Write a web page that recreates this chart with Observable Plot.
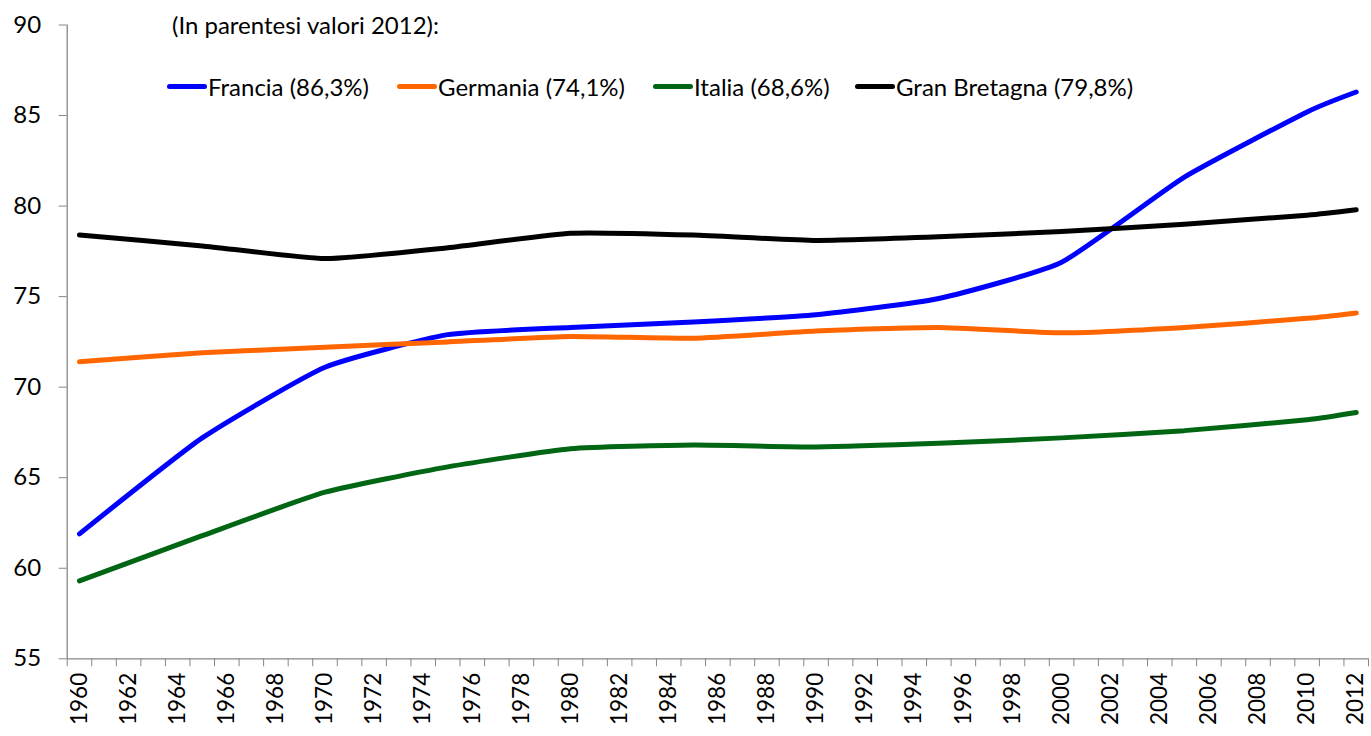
<!DOCTYPE html>
<html>
<head>
<meta charset="utf-8">
<script src="https://cdn.jsdelivr.net/npm/d3@7"></script>
<script src="https://cdn.jsdelivr.net/npm/@observablehq/plot@0.6"></script>
<style>
  html, body { margin: 0; padding: 0; background: #fff; }
  #wrap { position: relative; width: 1371px; height: 736px; font-family: Lato, "Open Sans", sans-serif; }
  #wrap svg { position: absolute; left: 0; top: 0; }
  .title { position: absolute; left: 172px; top: 10px; font-size: 24px; color: #000; white-space: nowrap; }
  .item { position: absolute; top: 71px; height: 30px; display: flex; align-items: center; font-size: 24px; white-space: nowrap; }
  .sw { width: 40px; height: 5px; border-radius: 3px; margin-right: 1px; }
</style>
</head>
<body>
<div id="wrap"></div>
<script>
// Data (percent values)
const years    = [1960, 1965, 1970, 1975, 1980, 1985, 1990, 1995, 2000, 2005, 2010, 2012];
const francia  = [61.9, 67.2, 71.1, 72.9, 73.3, 73.6, 74.0, 74.9, 76.9, 81.6, 85.2, 86.3];
const germania = [71.4, 71.9, 72.2, 72.5, 72.8, 72.7, 73.1, 73.3, 73.0, 73.3, 73.8, 74.1];
const italia   = [59.3, 61.8, 64.2, 65.6, 66.6, 66.8, 66.7, 66.9, 67.2, 67.6, 68.2, 68.6];
const granBretagna = [78.4, 77.8, 77.1, 77.7, 78.5, 78.4, 78.1, 78.3, 78.6, 79.0, 79.5, 79.8];

const seriesNames  = ["Francia", "Germania", "Italia", "Gran Bretagna"];
const seriesLabels = ["Francia (86,3%)", "Germania (74,1%)", "Italia (68,6%)", "Gran Bretagna (79,8%)"];
const seriesColors = ["#0000FF", "#FF6600", "#006614", "#000000"];
const seriesValues = [francia, germania, italia, granBretagna];
const legendTitle = "(In parentesi valori 2012):";

const yTicks = [55, 60, 65, 70, 75, 80, 85, 90];
const labelYears = d3.range(1960, 2013, 2);
const tickBounds = d3.range(1959.5, 2013, 1);

const data = [];
seriesNames.forEach((name, i) => {
  years.forEach((yr, j) => data.push({country: name, year: yr, value: seriesValues[i][j]}));
});

const axisGrey = "#868686";

const chart = Plot.plot({
  width: 1371,
  height: 736,
  marginLeft: 66.7,
  marginRight: 3,
  marginTop: 24.5,
  marginBottom: 77.7,
  style: {fontFamily: "Lato, 'Open Sans', sans-serif", background: "white"},
  x: {domain: [1959.5, 2012.5]},
  y: {domain: [55, 90]},
  color: {domain: seriesNames, range: seriesColors},
  marks: [
    Plot.axisY({ticks: yTicks, tickSize: 8, tickPadding: 18, fontSize: 24, stroke: axisGrey, fill: "black", label: null, tickFormat: d => String(d)}),
    Plot.axisX({ticks: tickBounds, tickSize: 8, stroke: axisGrey, tickFormat: () => "", label: null}),
    Plot.axisX({ticks: labelYears, tickSize: 0, tickPadding: 14, tickRotate: -90, fontSize: 22.5, fill: "black", label: null, tickFormat: d => String(d)}),
    Plot.ruleX([1959.5], {stroke: axisGrey, strokeWidth: 1.3}),
    Plot.ruleY([55], {stroke: axisGrey, strokeWidth: 1.3}),
    Plot.line(data, {x: "year", y: "value", z: "country", stroke: "country", strokeWidth: 5, curve: "cardinal", tension: 0.5, strokeLinecap: "round", strokeLinejoin: "round"})
  ]
});

const wrap = document.getElementById("wrap");
wrap.appendChild(chart);

const t = document.createElement("div");
t.className = "title";
t.textContent = legendTitle;
wrap.appendChild(t);

const legendLefts = [167, 397, 653, 855];
seriesNames.forEach((name, i) => {
  const it = document.createElement("div");
  it.className = "item";
  it.style.left = legendLefts[i] + "px";
  const sw = document.createElement("span");
  sw.className = "sw";
  sw.style.background = seriesColors[i];
  const tx = document.createElement("span");
  tx.textContent = seriesLabels[i];
  it.appendChild(sw);
  it.appendChild(tx);
  wrap.appendChild(it);
});
</script>
</body>
</html>
